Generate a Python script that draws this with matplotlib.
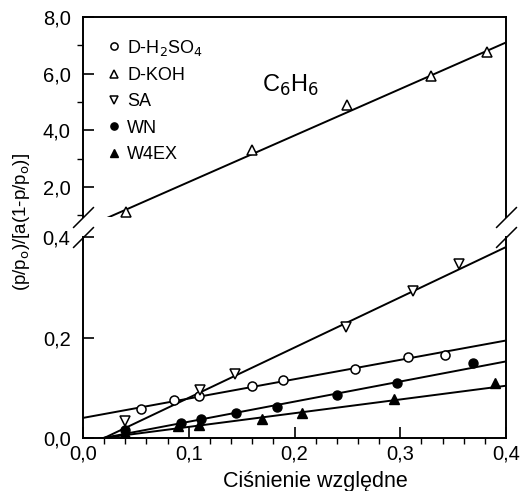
import numpy as np
import matplotlib
matplotlib.use("Agg")
import matplotlib.pyplot as plt
from matplotlib.ticker import MultipleLocator, FuncFormatter

plt.rcParams["font.family"] = ["Liberation Sans", "DejaVu Sans"]

# -----------------------------
# Data
# -----------------------------
x_h2so4 = [0.055, 0.086, 0.110, 0.160, 0.189, 0.257, 0.307, 0.342]
y_h2so4 = [0.057, 0.075, 0.083, 0.104, 0.116, 0.138, 0.161, 0.166]

x_koh = [0.041, 0.160, 0.250, 0.329, 0.382]
y_koh = [1.10, 3.32, 4.89, 5.92, 6.77]

x_sa = [0.040, 0.111, 0.144, 0.249, 0.312, 0.356]
y_sa = [0.034, 0.095, 0.128, 0.220, 0.293, 0.347]

x_wn = [0.040, 0.093, 0.112, 0.145, 0.183, 0.240, 0.297, 0.369]
y_wn = [0.016, 0.030, 0.037, 0.049, 0.062, 0.085, 0.110, 0.149]

x_w4ex = [0.040, 0.090, 0.110, 0.169, 0.207, 0.294, 0.390]
y_w4ex = [0.010, 0.024, 0.026, 0.038, 0.049, 0.077, 0.110]

# fitted straight lines (slope, intercept)
fit_h2so4 = (0.385, 0.040)
fit_koh = (16.42, 0.533)
fit_sa = (1.00, -0.020)
fit_wn = (0.40, -0.0076)
fit_w4ex = (0.273, -0.0052)

# -----------------------------
# Layout
# -----------------------------
W, H = 520, 491
fig = plt.figure(figsize=(W / 100, H / 100), dpi=100)

left, right = 83 / W, 506 / W
ax_top = fig.add_axes([left, 1 - 217 / H, right - left, (217 - 17) / H])
ax_bot = fig.add_axes([left, 1 - 438 / H, right - left, (438 - 237) / H])

xline = np.linspace(0, 0.4, 50)

def fit_line(ax, fit):
    ax.plot(xline, fit[0] * xline + fit[1], color="black", lw=1.4, zorder=2)

ms = 6.5
open_kw = dict(ls="none", mfc="white", mec="black", mew=1.1, ms=ms, zorder=3)
fill_kw = dict(ls="none", color="black", ms=ms, zorder=3)

# top panel
fit_line(ax_top, fit_koh)
ax_top.plot(x_koh, y_koh, marker="^", **open_kw)

# bottom panel
for fit in [fit_h2so4, fit_sa, fit_wn, fit_w4ex]:
    fit_line(ax_bot, fit)
ax_bot.plot(x_h2so4, y_h2so4, marker="o", **open_kw)
ax_bot.plot(x_sa, y_sa, marker="v", **open_kw)
ax_bot.plot(x_wn, y_wn, marker="o", **fill_kw)
ax_bot.plot(x_w4ex, y_w4ex, marker="^", **fill_kw)

# legend (proxy handles)
h = [
    ax_top.plot([], [], marker="o", **open_kw)[0],
    ax_top.plot([], [], marker="^", **open_kw)[0],
    ax_top.plot([], [], marker="v", **open_kw)[0],
    ax_top.plot([], [], marker="o", **fill_kw)[0],
    ax_top.plot([], [], marker="^", **fill_kw)[0],
]
labels = ["D-H$_2$SO$_4$", "D-KOH", "SA", "WN", "W4EX"]
ax_top.legend(h, labels, loc="upper left", bbox_to_anchor=(0.03, 0.96),
              frameon=False, fontsize=13, markerscale=0.8,
              handlelength=0.6, handletextpad=0.45, labelspacing=0.52,
              borderaxespad=0.3)

ax_top.text(0.49, 0.66, "C$_6$H$_6$", transform=ax_top.transAxes,
            fontsize=17, ha="center", va="center")

# -----------------------------
# Axes formatting
# -----------------------------
comma = FuncFormatter(lambda v, p: f"{v:.1f}".replace(".", ","))

for ax in (ax_top, ax_bot):
    ax.set_xlim(0, 0.4)
    ax.tick_params(direction="in", labelsize=14.5, width=1.2)
    ax.tick_params(which="major", length=8)
    ax.tick_params(which="minor", length=4, width=1.0)
    for s in ax.spines.values():
        s.set_linewidth(1.4)
    ax.yaxis.set_major_formatter(comma)
    ax.tick_params(axis="y", pad=9)

ax_top.set_ylim(0.94, 8.0)
ax_top.yaxis.set_major_locator(MultipleLocator(2))
ax_top.yaxis.set_minor_locator(MultipleLocator(1))
ax_top.spines["bottom"].set_visible(False)
ax_top.tick_params(axis="x", which="both", bottom=False, labelbottom=False)

ax_bot.set_ylim(0, 0.4)
ax_bot.yaxis.set_major_locator(MultipleLocator(0.2))
ax_bot.spines["top"].set_visible(False)
ax_bot.xaxis.set_major_locator(MultipleLocator(0.1))
ax_bot.xaxis.set_minor_locator(MultipleLocator(0.02))
ax_bot.xaxis.set_major_formatter(comma)
ax_bot.tick_params(axis="x", pad=5)

# break marks
brk = dict(marker=[(-1, -1), (1, 1)], markersize=15, ls="none",
           color="black", mew=1.1, clip_on=False)
ax_top.plot([0, 1], [0, 0], transform=ax_top.transAxes, **brk)
ax_bot.plot([0, 1], [1, 1], transform=ax_bot.transAxes, **brk)

# axis labels
fig.text(315 / W, 1 - 487 / H, "Ciśnienie względne", fontsize=15.5,
         ha="center", va="baseline")
fig.text(22 / W, 1 - 222 / H, "(p/p$_\\mathrm{o}$)/[a(1-p/p$_\\mathrm{o}$)]",
         fontsize=13.5, rotation=90, ha="center", va="center")

plt.savefig("out.png", dpi=100)
